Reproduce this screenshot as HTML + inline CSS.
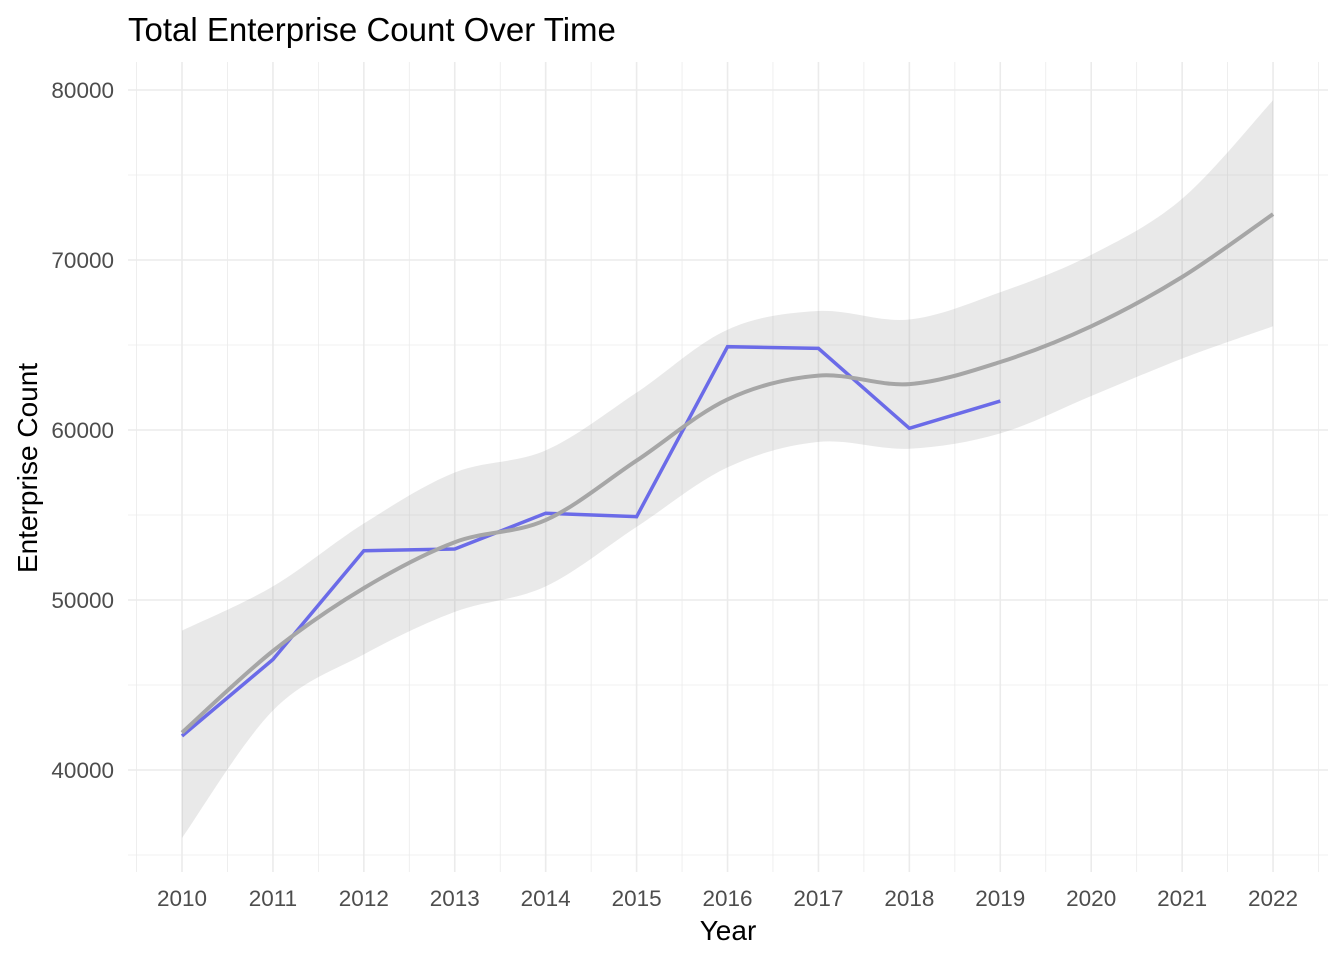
<!DOCTYPE html>
<html><head><meta charset="utf-8"><style>
body{margin:0;background:#fff;}
svg text{font-family:"Liberation Sans",Arial,sans-serif;}
</style></head><body>
<svg id="chart" width="1344" height="960">
<text x="128" y="41" font-size="33" fill="#000">Total Enterprise Count Over Time</text>
<g id="grid"></g>
<g id="marks"></g>
<g id="axes"></g>
<text x="728" y="940" font-size="28" text-anchor="middle" fill="#000">Year</text>
<text transform="translate(37,468) rotate(-90)" font-size="28" text-anchor="middle" fill="#000">Enterprise Count</text>
</svg>
<script>
const years=[2010,2011,2012,2013,2014,2015,2016,2017,2018,2019];
const counts=[42000,46500,52900,53000,55100,54900,64900,64800,60100,61700];
const smoothYears=[2010,2011,2012,2013,2014,2015,2016,2017,2018,2019,2020,2021,2022];
const smoothFit=[42200,47000,50700,53400,54700,58200,61800,63200,62700,64000,66100,69000,72700];
const bandUpper=[48200,50800,54500,57500,58800,62200,65900,67000,66500,68100,70300,73600,79400];
const bandLower=[36000,43500,46800,49300,50800,54300,57800,59300,58900,59800,62000,64200,66100];
const yTicks=[40000,50000,60000,70000,80000];
const xTicks=[2010,2011,2012,2013,2014,2015,2016,2017,2018,2019,2020,2021,2022];
const NS="http://www.w3.org/2000/svg";
const X=v=>182+(v-2010)*90.92;
const Y=v=>770-(v-40000)*0.017;
const L=128,R=1328,T=62,B=872;
function mk(tag,attrs,parent){const e=document.createElementNS(NS,tag);for(const k in attrs)e.setAttribute(k,attrs[k]);parent.appendChild(e);return e;}
const grid=document.getElementById('grid'),marks=document.getElementById('marks'),axes=document.getElementById('axes');
for(let v=35000;v<=85000;v+=5000){const y=Y(v);if(y<T||y>B)continue;const major=v%10000===0;
 const l=mk('line',{x1:L,x2:R,y1:y,y2:y,stroke:'#ebebeb','stroke-width':major?1.6:0.8},grid);
 
 }
for(let v=2009.5;v<=2022.5;v+=0.5){const x=X(v);const major=Number.isInteger(v);
 const l=mk('line',{x1:x,x2:x,y1:T,y2:B,stroke:'#ebebeb','stroke-width':major?1.6:0.8},grid);
 
 }
function smoothPath(xs,ys,move){let d='';const n=xs.length;
 for(let i=0;i<n;i++){const px=X(xs[i]),py=Y(ys[i]);
  if(i===0){d+=(move?'M':'L')+px+','+py;continue;}
  const p0=[X(xs[Math.max(0,i-2)]),Y(ys[Math.max(0,i-2)])],p1=[X(xs[i-1]),Y(ys[i-1])],p2=[px,py],p3=[X(xs[Math.min(n-1,i+1)]),Y(ys[Math.min(n-1,i+1)])];
  const c1=[p1[0]+(p2[0]-p0[0])/6,p1[1]+(p2[1]-p0[1])/6],c2=[p2[0]-(p3[0]-p1[0])/6,p2[1]-(p3[1]-p1[1])/6];
  d+=' C'+c1+' '+c2+' '+p2;}
 return d;}
const band=mk('path',{d:smoothPath(smoothYears,bandUpper,true)+' '+smoothPath(smoothYears.slice().reverse(),bandLower.slice().reverse(),false)+'Z',fill:'#999','fill-opacity':0.22,stroke:'none'},marks);


const line=mk('polyline',{points:years.map((y,i)=>X(y)+','+Y(counts[i])).join(' '),fill:'none',stroke:'#6b6be8','stroke-width':3.5},marks);


const sm=mk('path',{d:smoothPath(smoothYears,smoothFit,true),fill:'none',stroke:'#a6a6a6','stroke-width':4},marks);


yTicks.forEach(v=>{const t=mk('text',{x:114,y:Y(v)+8,'font-size':22.5,'text-anchor':'end',fill:'#4d4d4d'},axes);t.textContent=v;
 
 });
xTicks.forEach(v=>{const t=mk('text',{x:X(v),y:906,'font-size':22.5,'text-anchor':'middle',fill:'#4d4d4d'},axes);t.textContent=v;
 
 });
</script>
</body></html>
